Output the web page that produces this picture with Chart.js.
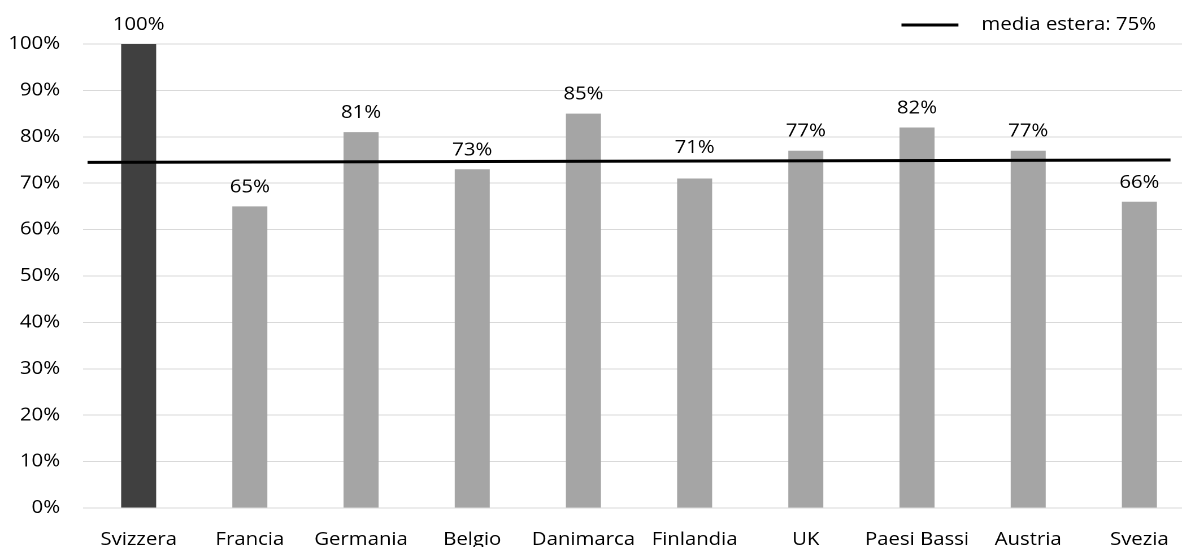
<!DOCTYPE html>
<html>
<head>
<meta charset="utf-8">
<script src="https://cdn.jsdelivr.net/npm/chart.js@4.4.1/dist/chart.umd.min.js"></script>
<style>
  html, body { margin: 0; padding: 0; background: #fff; overflow: hidden; }
  #wrap { position: relative; width: 1182px; height: 547px; overflow: hidden; background: #fff; }
  #c { position: absolute; left: 0; top: 0; transform: scaleX(1.13); transform-origin: 0 0; }
</style>
</head>
<body>
<div id="wrap"><canvas id="c" width="1065" height="560" style="width:1065px;height:560px"></canvas></div>
<script>
// ---- data ----
const categories = ['Svizzera', 'Francia', 'Germania', 'Belgio', 'Danimarca', 'Finlandia', 'UK', 'Paesi Bassi', 'Austria', 'Svezia'];
const shares = [100, 65, 81, 73, 85, 71, 77, 82, 77, 66];
const highlightCategory = 'Svizzera';
const meanLabel = 'media estera: 75%';
const meanLineX = [-0.46, 9.28];   // in category-index units
const meanLineY = [74.5, 75.0];
const yTickValues = [0, 10, 20, 30, 40, 50, 60, 70, 80, 90, 100];

// ---- styles ----
const FONT = "'Open Sans', 'DejaVu Sans', sans-serif";
const FSIZE = 18;
const TEXT = '#000';
Chart.defaults.font.family = FONT;
Chart.defaults.font.size = FSIZE;
Chart.defaults.color = TEXT;

const valueLabels = {
  id: 'valueLabels',
  afterDatasetsDraw(chart) {
    const ctx = chart.ctx;
    const meta = chart.getDatasetMeta(0);
    const lineMeta = chart.getDatasetMeta(1);
    const p0 = lineMeta.data[0], p1 = lineMeta.data[lineMeta.data.length - 1];
    const lineYAt = x => p0.y + (p1.y - p0.y) * (x - p0.x) / (p1.x - p0.x);
    const cap = 13;
    ctx.save();
    ctx.font = FSIZE + 'px ' + FONT;
    ctx.fillStyle = TEXT;
    ctx.textAlign = 'center';
    ctx.textBaseline = 'alphabetic';
    meta.data.forEach((el, i) => {
      let base = el.y - 14;
      const ly = lineYAt(el.x);
      if (base + 2 > ly - 2 && base - cap < ly + 2) {
        base = ly - 8;  // lift label above the mean line
      }
      ctx.fillText(shares[i] + '%', el.x, base);
    });
    ctx.restore();
  }
};

const lineLegend = {
  id: 'lineLegend',
  afterDraw(chart) {
    const ctx = chart.ctx;
    const ds = chart.data.datasets[1];
    const right = chart.chartArea.right - 34.5;
    ctx.save();
    ctx.font = FSIZE + 'px ' + FONT;
    const tw = ctx.measureText(ds.label).width;
    const textX = right - tw;
    const y = 25;
    ctx.strokeStyle = ds.borderColor;
    ctx.lineWidth = ds.borderWidth;
    ctx.beginPath();
    ctx.moveTo(textX - 70.8, y);
    ctx.lineTo(textX - 20.4, y);
    ctx.stroke();
    ctx.fillStyle = TEXT;
    ctx.textAlign = 'left';
    ctx.textBaseline = 'middle';
    ctx.fillText(ds.label, textX, y);
    ctx.restore();
  }
};

new Chart(document.getElementById('c'), {
  data: {
    labels: categories,
    datasets: [
      {
        type: 'bar',
        label: 'quota',
        data: shares,
        backgroundColor: categories.map(c => c === highlightCategory ? '#404040' : '#A5A5A5'),
        borderWidth: 0,
        grouped: false,
        barPercentage: 0.315,
        categoryPercentage: 1,
        xAxisID: 'x',
        yAxisID: 'y',
        order: 2
      },
      {
        type: 'line',
        label: meanLabel,
        data: meanLineX.map((x, i) => ({ x: x, y: meanLineY[i] })),
        borderColor: '#000',
        borderWidth: 3,
        pointRadius: 0,
        fill: false,
        tension: 0,
        xAxisID: 'xLine',
        yAxisID: 'y',
        order: 1
      }
    ]
  },
  options: {
    responsive: false,
    maintainAspectRatio: false,
    devicePixelRatio: 2,
    animation: false,
    layout: { padding: { top: 44, right: 7.5, bottom: 0, left: 0 } },
    plugins: {
      legend: { display: false },
      tooltip: { enabled: false }
    },
    scales: {
      x: {
        type: 'category',
        position: 'bottom',
        offset: true,
        grid: { display: false },
        border: { display: false },
        ticks: { padding: 13, maxRotation: 0, autoSkip: false, color: TEXT, font: { size: FSIZE } },
        afterFit(s) { s.height = 52; }
      },
      xLine: {
        type: 'linear',
        display: false,
        min: -0.5,
        max: 9.5
      },
      y: {
        min: 0,
        max: 100,
        afterBuildTicks(s) { s.ticks = yTickValues.map(v => ({ value: v })); },
        ticks: { padding: 20.4, color: TEXT, font: { size: FSIZE }, callback: v => v + '%' },
        grid: { color: '#D9D9D9', lineWidth: 1, drawTicks: false },
        border: { display: false },
        afterFit(s) { s.width = 73.5; }
      }
    }
  },
  plugins: [valueLabels, lineLegend]
});
</script>
</body>
</html>
